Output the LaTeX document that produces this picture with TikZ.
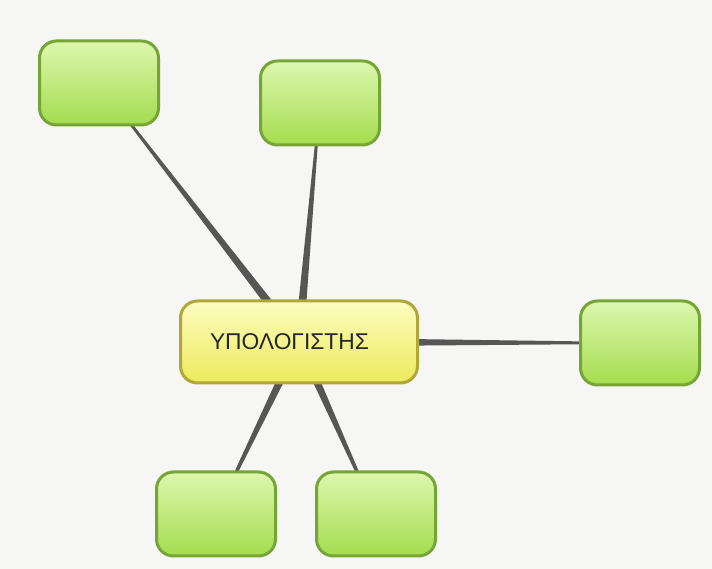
\documentclass[tikz,border=0pt]{standalone}
\usepackage{fontspec}
\newfontfamily\labelfont{Liberation Sans}
\usetikzlibrary{calc,backgrounds}
\definecolor{paper}{HTML}{F6F6F4}
\definecolor{leafedge}{HTML}{76A536}
\definecolor{leaftop}{HTML}{DDF7AE}
\definecolor{leafbot}{HTML}{A4DC4E}
\definecolor{hubedge}{HTML}{B0A63A}
\definecolor{hubtop}{HTML}{FCFCC0}
\definecolor{hubbot}{HTML}{ECEA5C}
\definecolor{linkgray}{HTML}{565656}
\tikzset{
  leaf/.style={draw=leafedge, line width=3pt, rounded corners=17pt,
    top color=leaftop, bottom color=leafbot, minimum width=119pt, minimum height=84pt},
  hub/.style={draw=hubedge, line width=3pt, rounded corners=17pt,
    top color=hubtop, bottom color=hubbot, minimum width=237pt, minimum height=82pt,
    text width=178pt, inner xsep=29.5pt, align=left, text=black!85,
    font=\labelfont\fontsize{22.8}{24}\selectfont},
  link/.style={fill=linkgray},
}
% tapered connector, thick end at #1
\newcommand\taper[2]{\fill[link] ($(#1)!4.5pt!90:(#2)$) -- ($(#1)!4.5pt!-90:(#2)$)
  -- ($(#2)!0.8pt!90:(#1)$) -- ($(#2)!0.8pt!-90:(#1)$) -- cycle;}
\begin{document}
\begin{tikzpicture}[x=1pt,y=1pt]
  \useasboundingbox (0,0) rectangle (712,569);
  \node[hub] (comp) at (299,227) {ΥΠΟΛΟΓΙΣΤΗΣ};
  \node[leaf] (nw) at (99,486) {};
  \node[leaf] (n) at (320,466) {};
  \node[leaf] (e) at (640,226) {};
  \node[leaf] (sw) at (216,55) {};
  \node[leaf] (s) at (376,55) {};
  \begin{scope}[on background layer]
    \fill[paper] (0,0) rectangle (712,569);
    \taper{comp}{nw}
    \taper{comp}{n}
    \taper{comp}{e}
    \taper{comp}{sw}
    \taper{comp}{s}
  \end{scope}
\end{tikzpicture}
\end{document}
